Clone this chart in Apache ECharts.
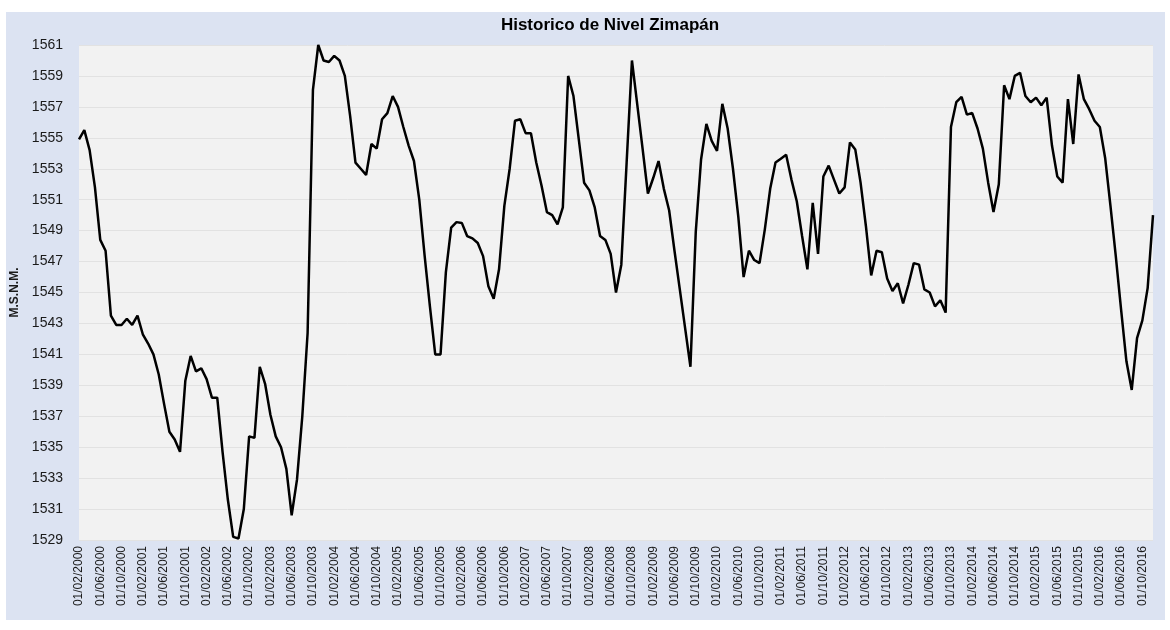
<!DOCTYPE html>
<html>
<head>
<meta charset="utf-8">
<script src="https://cdn.jsdelivr.net/npm/echarts@6/dist/echarts.min.js"></script>
<style>
  html, body { margin: 0; padding: 0; background: #ffffff; }
  .panel {
    position: absolute;
    left: 6px; top: 12px;
    width: 1159px; height: 608px;
    background: #dce3f2;
  }
  #chart {
    position: absolute;
    left: 0; top: 0;
    width: 1170px; height: 630px;
  }
</style>
</head>
<body>
<div class="panel"></div>
<div id="chart"></div>
<script>
// meses de febrero 2000 a diciembre 2016
const startYear = 2000
const startMonth = 2
const endYear = 2016
const endMonth = 12

// nivel (m.s.n.m.), un valor por mes
const nivel = [
  1554.9, 1555.5, 1554.2, 1551.8, 1548.4, 1547.7, 1543.5, 1542.9, 1542.9, 1543.3,
  1542.9, 1543.5, 1542.3, 1541.7, 1541.0, 1539.7, 1537.8, 1536.0, 1535.5, 1534.7,
  1539.3, 1540.9, 1539.9, 1540.1, 1539.4, 1538.2, 1538.2, 1534.7, 1531.6, 1529.2,
  1529.1, 1531.0, 1535.7, 1535.6, 1540.2, 1539.1, 1537.1, 1535.7, 1535.0, 1533.6,
  1530.6, 1532.9, 1537.0, 1542.4, 1558.1, 1561.0, 1560.0, 1559.9, 1560.3, 1560.0,
  1559.0, 1556.4, 1553.4, 1553.0, 1552.6, 1554.6, 1554.3, 1556.2, 1556.6, 1557.7,
  1557.0, 1555.7, 1554.5, 1553.5, 1551.0, 1547.4, 1544.1, 1541.0, 1541.0, 1546.3,
  1549.2, 1549.55, 1549.5, 1548.65, 1548.5, 1548.2, 1547.35, 1545.4, 1544.6, 1546.5,
  1550.6, 1553.0, 1556.1, 1556.2, 1555.3, 1555.3, 1553.4, 1551.9, 1550.2, 1550.0,
  1549.4, 1550.5, 1559.0, 1557.7, 1554.9, 1552.1, 1551.6, 1550.5, 1548.65, 1548.4,
  1547.5, 1545.0, 1546.8, 1553.4, 1560.0, 1557.15, 1554.3, 1551.4, 1552.4, 1553.5,
  1551.7, 1550.3, 1547.7, 1545.2, 1542.7, 1540.2, 1548.9, 1553.6, 1555.9, 1554.8,
  1554.15, 1557.2, 1555.6, 1553.0, 1549.9, 1546.0, 1547.7, 1547.1, 1546.9, 1549.1,
  1551.7, 1553.4, 1553.65, 1553.9, 1552.3, 1550.9, 1548.65, 1546.5, 1550.8, 1547.5,
  1552.5, 1553.2, 1552.3, 1551.4, 1551.8, 1554.7, 1554.25, 1552.1, 1549.3, 1546.1,
  1547.7, 1547.6, 1545.9, 1545.1, 1545.6, 1544.3, 1545.5, 1546.9, 1546.8, 1545.2,
  1545.0, 1544.1, 1544.5, 1543.7, 1555.7, 1557.3, 1557.65, 1556.5, 1556.6, 1555.6,
  1554.3, 1552.1, 1550.2, 1552.0, 1558.4, 1557.5, 1559.0, 1559.2, 1557.7, 1557.3,
  1557.6, 1557.1, 1557.6, 1554.5, 1552.5, 1552.1, 1557.5, 1554.6, 1559.1, 1557.5,
  1556.85, 1556.1, 1555.7, 1553.7, 1550.6, 1547.35, 1543.9, 1540.55, 1538.7, 1542.05,
  1543.2, 1545.3, 1550.0
]

const yMin = 1529
const yMax = 1561
const yStep = 2

const fechas = []
for (let y = startYear, m = startMonth; y < endYear || (y === endYear && m <= endMonth); ) {
  fechas.push('01/' + String(m).padStart(2, '0') + '/' + y)
  m++
  if (m > 12) { m = 1; y++ }
}

const chart = echarts.init(document.getElementById('chart'))

chart.setOption({
  animation: false,
  backgroundColor: 'transparent',
  title: {
    text: 'Historico de Nivel Zimapán',
    left: 605,
    textAlign: 'center',
    top: 12,
    textStyle: {
      fontFamily: 'Liberation Sans, Arial, sans-serif',
      fontSize: 17,
      fontWeight: 'bold',
      color: '#000000'
    }
  },
  grid: {
    left: 79,
    right: 17,
    top: 45,
    bottom: 90,
    show: true,
    backgroundColor: '#f2f2f2',
    borderWidth: 0
  },
  xAxis: {
    type: 'category',
    boundaryGap: false,
    data: fechas,
    axisLine: { show: false },
    axisTick: { show: false },
    splitLine: { show: false },
    axisLabel: {
      interval: 3,
      rotate: 90,
      margin: 6,
      fontFamily: 'Liberation Sans Narrow, Liberation Sans, Arial, sans-serif',
      fontSize: 12,
      color: '#1a1a1a'
    }
  },
  yAxis: {
    type: 'value',
    min: yMin,
    max: yMax,
    interval: yStep,
    name: 'M.S.N.M.',
    nameLocation: 'middle',
    nameGap: 56,
    nameRotate: 90,
    nameTextStyle: {
      fontFamily: 'Liberation Sans Narrow, Liberation Sans, Arial, sans-serif',
      fontSize: 12,
      fontWeight: 'bold',
      color: '#1a1a1a'
    },
    axisLine: { show: false },
    axisTick: { show: false },
    splitLine: { lineStyle: { color: '#e2e2e2', width: 1 } },
    axisLabel: {
      margin: 16,
      formatter: v => String(v),
      fontFamily: 'Liberation Sans, Arial, sans-serif',
      fontSize: 14,
      color: '#1a1a1a'
    }
  },
  series: [
    {
      type: 'line',
      data: nivel,
      showSymbol: false,
      lineStyle: { color: '#000000', width: 2.5 },
      itemStyle: { color: '#000000' }
    }
  ]
})
</script>
</body>
</html>
